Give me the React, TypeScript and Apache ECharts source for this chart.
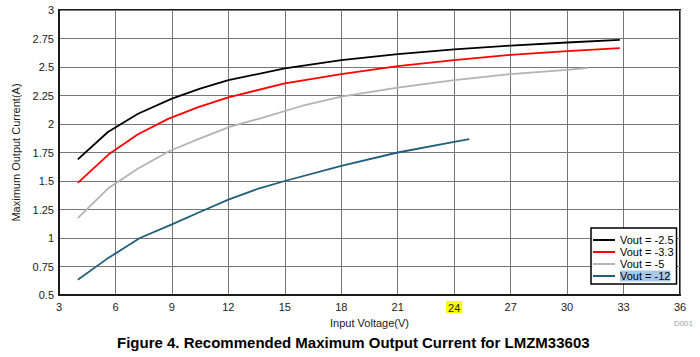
import React, { useEffect, useRef } from 'react';
import * as echarts from 'echarts';

const FONT = '"Liberation Sans", Arial, sans-serif';

const seriesNames = ['Vout = -2.5', 'Vout = -3.3', 'Vout = -5', 'Vout = -12'];
const seriesColors = ['#000000', '#ff0000', '#b3b3b3', '#215e7c'];

const vout2p5: [number, number][] = [
  [4, 1.69], [5.6, 1.93], [7.2, 2.09], [9, 2.222], [10.5, 2.31], [12, 2.385],
  [15, 2.487], [18, 2.56], [21, 2.613], [24, 2.654], [27, 2.688], [30, 2.715], [32.8, 2.738],
];
const vout3p3: [number, number][] = [
  [4, 1.484], [5.7, 1.742], [7.2, 1.91], [8.8, 2.045], [10.4, 2.148], [12, 2.234],
  [15, 2.356], [18, 2.438], [21, 2.508], [24, 2.56], [27, 2.607], [30, 2.64], [32.8, 2.665],
];
const vout5: [number, number][] = [
  [4, 1.175], [5.6, 1.434], [7.2, 1.61], [8.9, 1.765], [10.5, 1.874], [12.1, 1.977],
  [13.7, 2.05], [15.9, 2.158], [18, 2.24], [21, 2.32], [24, 2.385], [27, 2.438], [30, 2.475], [31.1, 2.493],
];
const vout12: [number, number][] = [
  [4, 0.633], [5.55, 0.817], [7.3, 1.0], [9, 1.12], [10.7, 1.243], [12, 1.337],
  [13.6, 1.434], [15, 1.5], [18, 1.633], [21, 1.75], [24, 1.844], [24.8, 1.868],
];
const seriesData = [vout2p5, vout3p3, vout5, vout12];

const xMin = 3;
const xMax = 36;
const xStep = 3;
const yMin = 0.5;
const yMax = 3;
const yStep = 0.25;
const highlightedTick = 24;
const highlightedLegend = 'Vout = -12';

const xName = 'Input Voltage(V)';
const yName = 'Maximum Output Current(A)';
const figureTitle = 'Figure 4. Recommended Maximum Output Current for LMZM33603';
const figureId = 'D001';

export default function App() {
  const ref = useRef<HTMLDivElement>(null);
  useEffect(() => {
    if (!ref.current) return;
    const chart = echarts.init(ref.current, undefined, { renderer: 'svg' });
    chart.setOption({
      animation: false,
      backgroundColor: '#ffffff',
      textStyle: { fontFamily: FONT },
      title: {
        text: figureTitle,
        left: 117,
        top: 335,
        padding: 0,
        textStyle: { fontSize: 15, fontWeight: 'bold', color: '#000', fontFamily: FONT },
      },
      grid: {
        left: 59,
        right: 20,
        top: 10,
        bottom: 62,
        show: true,
        borderColor: '#1a1a1a',
        borderWidth: 2,
      },
      xAxis: {
        type: 'value',
        min: xMin,
        max: xMax,
        interval: xStep,
        name: xName,
        nameLocation: 'middle',
        nameGap: 16,
        nameTextStyle: { fontSize: 11, color: '#1a1a1a', fontFamily: FONT },
        axisLine: { show: true, onZero: false, lineStyle: { color: '#1a1a1a', width: 2 } },
        axisTick: { show: false },
        splitLine: { show: true, lineStyle: { color: '#777777', width: 1 } },
        axisLabel: {
          color: '#1a1a1a',
          fontSize: 11,
          fontFamily: FONT,
          margin: 6,
          formatter: (v: number) => (v === highlightedTick ? `{hl|${v}}` : String(v)),
          rich: {
            hl: { backgroundColor: '#ffff00', color: '#1a1a1a', fontSize: 11, fontFamily: FONT, padding: [1, 2, 0, 2] },
          },
        },
      },
      yAxis: {
        type: 'value',
        min: yMin,
        max: yMax,
        interval: yStep,
        name: yName,
        nameLocation: 'middle',
        nameGap: 27,
        nameTextStyle: { fontSize: 11, color: '#1a1a1a', fontFamily: FONT },
        axisLine: { show: true, lineStyle: { color: '#1a1a1a', width: 2 } },
        axisTick: { show: false },
        splitLine: { show: true, lineStyle: { color: '#777777', width: 1 } },
        axisLabel: { color: '#1a1a1a', fontSize: 11, fontFamily: FONT, margin: 5 },
      },
      legend: {
        orient: 'vertical',
        left: 591,
        top: 228,
        backgroundColor: '#ffffff',
        borderColor: '#000000',
        borderWidth: 1.5,
        padding: [6, 3, 2, 2],
        itemWidth: 22,
        itemHeight: 2,
        itemGap: 0,
        icon: 'rect',
        data: seriesNames,
        formatter: (name: string) => (name === highlightedLegend ? `{hl|${name}}` : name),
        textStyle: {
          fontSize: 11,
          color: '#000',
          lineHeight: 12,
          fontFamily: FONT,
          rich: {
            hl: { backgroundColor: '#a7c7e7', color: '#000', fontSize: 11, lineHeight: 12, fontFamily: FONT },
          },
        },
      },
      graphic: [
        {
          type: 'text',
          right: 7,
          top: 319,
          style: { text: figureId, fontSize: 8, fill: '#a0a0a0', fontFamily: FONT },
        },
      ],
      series: seriesNames.map((name, i) => ({
        name,
        type: 'line',
        data: seriesData[i],
        showSymbol: false,
        symbol: 'none',
        color: seriesColors[i],
        lineStyle: { color: seriesColors[i], width: 1.8 },
        z: 3,
      })),
    });
    return () => chart.dispose();
  }, []);
  return (
    <div
      ref={ref}
      style={{ position: 'fixed', left: 0, top: 0, width: 700, height: 357, background: '#fff' }}
    />
  );
}
